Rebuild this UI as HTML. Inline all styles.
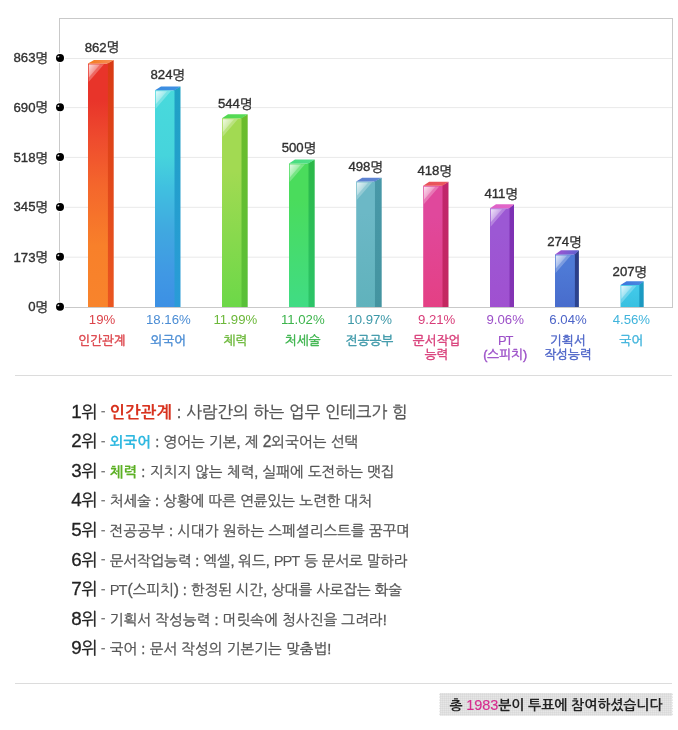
<!DOCTYPE html>
<html lang="ko"><head><meta charset="utf-8"><title>설문 결과</title>
<style>
html,body{margin:0;padding:0;background:#fff}
body{width:678px;height:730px;position:relative;overflow:hidden;font-family:"Liberation Sans", "NanumGothic", sans-serif;color:#555}
svg text{font-family:"Liberation Sans", "NanumGothic", sans-serif;stroke-width:0.25px}
.l{line-height:0}
.row b{-webkit-text-stroke:0.1px}
.hr{position:absolute;left:15px;width:657px;height:1px;background:#dcdcdc}
.row{position:absolute;left:71.3px;height:30px;line-height:30px;white-space:nowrap;color:#555;-webkit-text-stroke:0.3px}
.rk{display:inline-block;width:29.4px;font-size:17.43px;color:#222;letter-spacing:-0.5px}
.ds{display:inline-block;width:9px;color:#7c7c7c;position:relative;top:-1.4px;-webkit-text-stroke:0.1px;font-size:14.53px}
.foot{position:absolute;left:439px;top:693.2px;width:234px;height:22.7px}
.foot svg{position:absolute;left:0;top:0}
.foot p{position:absolute;left:0;top:1px;width:234px;margin:0;height:22.7px;line-height:22.7px;color:#222;font-size:14.0px;font-weight:bold;text-align:center;white-space:nowrap;letter-spacing:-0.1px}
.foot i{font-style:normal;color:#d62c8e;font-weight:normal;-webkit-text-stroke:0.15px}
</style></head><body>
<svg width="678" height="370" viewBox="0 0 678 370" style="position:absolute;left:0;top:0">
<defs>
<linearGradient id="f0" x1="0" y1="0" x2="0" y2="1"><stop offset="0.00" stop-color="#e8342a"/><stop offset="0.15" stop-color="#e8342a"/><stop offset="0.30" stop-color="#ee4a2e"/><stop offset="0.50" stop-color="#f4662c"/><stop offset="0.75" stop-color="#f8802a"/><stop offset="1.00" stop-color="#f8842c"/></linearGradient>
<linearGradient id="t0" x1="0" y1="0" x2="1" y2="0"><stop offset="0" stop-color="#f27a1c"/><stop offset="1" stop-color="#f8905c"/></linearGradient>
<linearGradient id="s0" x1="0" y1="0" x2="0" y2="1"><stop offset="0" stop-color="#d83a14"/><stop offset="1" stop-color="#ea5620"/></linearGradient>
<linearGradient id="f1" x1="0" y1="0" x2="0" y2="1"><stop offset="0.00" stop-color="#48dadc"/><stop offset="0.30" stop-color="#46d4dc"/><stop offset="0.45" stop-color="#40c0e0"/><stop offset="0.65" stop-color="#40a8e0"/><stop offset="0.85" stop-color="#4098e4"/><stop offset="1.00" stop-color="#3c90e4"/></linearGradient>
<linearGradient id="t1" x1="0" y1="0" x2="1" y2="0"><stop offset="0" stop-color="#3b8ce0"/><stop offset="1" stop-color="#3f92e4"/></linearGradient>
<linearGradient id="s1" x1="0" y1="0" x2="0" y2="1"><stop offset="0" stop-color="#1fa2c4"/><stop offset="1" stop-color="#2a9bd8"/></linearGradient>
<linearGradient id="f2" x1="0" y1="0" x2="0" y2="1"><stop offset="0.00" stop-color="#a2da52"/><stop offset="0.28" stop-color="#a2da52"/><stop offset="1.00" stop-color="#6cd848"/></linearGradient>
<linearGradient id="t2" x1="0" y1="0" x2="1" y2="0"><stop offset="0" stop-color="#50d850"/><stop offset="1" stop-color="#58dc58"/></linearGradient>
<linearGradient id="s2" x1="0" y1="0" x2="0" y2="1"><stop offset="0" stop-color="#6cbc2c"/><stop offset="1" stop-color="#58c038"/></linearGradient>
<linearGradient id="f3" x1="0" y1="0" x2="0" y2="1"><stop offset="0.00" stop-color="#4adc5c"/><stop offset="0.25" stop-color="#4adc5c"/><stop offset="1.00" stop-color="#40dc84"/></linearGradient>
<linearGradient id="t3" x1="0" y1="0" x2="1" y2="0"><stop offset="0" stop-color="#48dc80"/><stop offset="1" stop-color="#50e088"/></linearGradient>
<linearGradient id="s3" x1="0" y1="0" x2="0" y2="1"><stop offset="0" stop-color="#2cb848"/><stop offset="1" stop-color="#2cc468"/></linearGradient>
<linearGradient id="f4" x1="0" y1="0" x2="0" y2="1"><stop offset="0.00" stop-color="#6cb8c6"/><stop offset="0.25" stop-color="#6cb8c6"/><stop offset="1.00" stop-color="#60b2bc"/></linearGradient>
<linearGradient id="t4" x1="0" y1="0" x2="1" y2="0"><stop offset="0" stop-color="#5c80d0"/><stop offset="1" stop-color="#6088d4"/></linearGradient>
<linearGradient id="s4" x1="0" y1="0" x2="0" y2="1"><stop offset="0" stop-color="#4898a8"/><stop offset="1" stop-color="#4494a0"/></linearGradient>
<linearGradient id="f5" x1="0" y1="0" x2="0" y2="1"><stop offset="0.00" stop-color="#e0489c"/><stop offset="0.25" stop-color="#e0489c"/><stop offset="1.00" stop-color="#e44084"/></linearGradient>
<linearGradient id="t5" x1="0" y1="0" x2="1" y2="0"><stop offset="0" stop-color="#e85058"/><stop offset="1" stop-color="#ec5860"/></linearGradient>
<linearGradient id="s5" x1="0" y1="0" x2="0" y2="1"><stop offset="0" stop-color="#c0266c"/><stop offset="1" stop-color="#c42860"/></linearGradient>
<linearGradient id="f6" x1="0" y1="0" x2="0" y2="1"><stop offset="0.00" stop-color="#9c58d4"/><stop offset="0.25" stop-color="#9c58d4"/><stop offset="1.00" stop-color="#a050d0"/></linearGradient>
<linearGradient id="t6" x1="0" y1="0" x2="1" y2="0"><stop offset="0" stop-color="#de60c6"/><stop offset="1" stop-color="#e268ca"/></linearGradient>
<linearGradient id="s6" x1="0" y1="0" x2="0" y2="1"><stop offset="0" stop-color="#7c30b4"/><stop offset="1" stop-color="#8434b4"/></linearGradient>
<linearGradient id="f7" x1="0" y1="0" x2="0" y2="1"><stop offset="0.00" stop-color="#4e7ad6"/><stop offset="0.25" stop-color="#4e7ad6"/><stop offset="1.00" stop-color="#486ccc"/></linearGradient>
<linearGradient id="t7" x1="0" y1="0" x2="1" y2="0"><stop offset="0" stop-color="#a452d2"/><stop offset="1" stop-color="#5c62d0"/></linearGradient>
<linearGradient id="s7" x1="0" y1="0" x2="0" y2="1"><stop offset="0" stop-color="#2c3c84"/><stop offset="1" stop-color="#2c4490"/></linearGradient>
<linearGradient id="f8" x1="0" y1="0" x2="0" y2="1"><stop offset="0.00" stop-color="#40c8e8"/><stop offset="0.25" stop-color="#40c8e8"/><stop offset="1.00" stop-color="#38c0e0"/></linearGradient>
<linearGradient id="t8" x1="0" y1="0" x2="1" y2="0"><stop offset="0" stop-color="#3c74dc"/><stop offset="1" stop-color="#4a8ae0"/></linearGradient>
<linearGradient id="s8" x1="0" y1="0" x2="0" y2="1"><stop offset="0" stop-color="#1c9cc4"/><stop offset="1" stop-color="#1c98c0"/></linearGradient>
<linearGradient id="hl" x1="0" y1="0" x2="0.55" y2="0.45"><stop offset="0" stop-color="#fff" stop-opacity="0.8"/><stop offset="1" stop-color="#fff" stop-opacity="0.3"/></linearGradient>
</defs>
<rect x="59.5" y="18.5" width="613" height="289" fill="#fff" stroke="#c9c9c9" stroke-width="1"/>
<line x1="60" x2="672" y1="58.5" y2="58.5" stroke="#e9e9e9" stroke-width="1"/>
<line x1="60" x2="672" y1="107.6" y2="107.6" stroke="#e9e9e9" stroke-width="1"/>
<line x1="60" x2="672" y1="157.4" y2="157.4" stroke="#e9e9e9" stroke-width="1"/>
<line x1="60" x2="672" y1="207.3" y2="207.3" stroke="#e9e9e9" stroke-width="1"/>
<line x1="60" x2="672" y1="257.2" y2="257.2" stroke="#e9e9e9" stroke-width="1"/>
<circle cx="60" cy="57.9" r="5.2" fill="#fff"/><circle cx="60" cy="57.9" r="4" fill="#000"/><ellipse cx="58.4" cy="56.6" rx="1" ry="0.8" fill="#e8e8e8" transform="rotate(-35 58.4 56.6)"/>
<text x="48.1" y="62.1" text-anchor="end" font-size="13.4" fill="#303030" stroke="#303030" style="stroke-width:0.35px"><tspan font-size="13.20">863</tspan><tspan dy="0.7">명</tspan></text>
<circle cx="60" cy="107.3" r="5.2" fill="#fff"/><circle cx="60" cy="107.3" r="4" fill="#000"/><ellipse cx="58.4" cy="106.0" rx="1" ry="0.8" fill="#e8e8e8" transform="rotate(-35 58.4 106.0)"/>
<text x="48.1" y="111.5" text-anchor="end" font-size="13.4" fill="#303030" stroke="#303030" style="stroke-width:0.35px"><tspan font-size="13.20">690</tspan><tspan dy="0.7">명</tspan></text>
<circle cx="60" cy="157" r="5.2" fill="#fff"/><circle cx="60" cy="157" r="4" fill="#000"/><ellipse cx="58.4" cy="155.7" rx="1" ry="0.8" fill="#e8e8e8" transform="rotate(-35 58.4 155.7)"/>
<text x="48.1" y="162.0" text-anchor="end" font-size="13.4" fill="#303030" stroke="#303030" style="stroke-width:0.35px"><tspan font-size="13.20">518</tspan><tspan dy="0.7">명</tspan></text>
<circle cx="60" cy="207" r="5.2" fill="#fff"/><circle cx="60" cy="207" r="4" fill="#000"/><ellipse cx="58.4" cy="205.7" rx="1" ry="0.8" fill="#e8e8e8" transform="rotate(-35 58.4 205.7)"/>
<text x="48.1" y="211.2" text-anchor="end" font-size="13.4" fill="#303030" stroke="#303030" style="stroke-width:0.35px"><tspan font-size="13.20">345</tspan><tspan dy="0.7">명</tspan></text>
<circle cx="60" cy="256.7" r="5.2" fill="#fff"/><circle cx="60" cy="256.7" r="4" fill="#000"/><ellipse cx="58.4" cy="255.4" rx="1" ry="0.8" fill="#e8e8e8" transform="rotate(-35 58.4 255.4)"/>
<text x="48.1" y="261.5" text-anchor="end" font-size="13.4" fill="#303030" stroke="#303030" style="stroke-width:0.35px"><tspan font-size="13.20">173</tspan><tspan dy="0.7">명</tspan></text>
<circle cx="60" cy="306.7" r="5.2" fill="#fff"/><circle cx="60" cy="306.7" r="4" fill="#000"/><ellipse cx="58.4" cy="305.4" rx="1" ry="0.8" fill="#e8e8e8" transform="rotate(-35 58.4 305.4)"/>
<text x="48.1" y="311.1" text-anchor="end" font-size="13.4" fill="#303030" stroke="#303030" style="stroke-width:0.35px"><tspan font-size="13.20">0</tspan><tspan dy="0.7">명</tspan></text>
<polygon points="106.9,63.5 113.7,60.0 113.7,307.0 106.9,307.0" fill="url(#s0)"/>
<rect x="88.0" y="63.5" width="19.9" height="243.5" fill="url(#f0)"/>
<polygon points="88.0,63.5 94.0,60.0 113.7,60.0 107.9,63.5" fill="url(#t0)"/>
<polygon points="88.6,64.3 104.0,64.3 88.6,82.0" fill="#fff" fill-opacity="0.26"/>
<polygon points="88.8,64.5 100.0,64.5 88.8,77.5" fill="url(#hl)"/>
<text x="102.0" y="51.6" text-anchor="middle" font-size="13.4" fill="#303030" stroke="#303030" style="stroke-width:0.35px"><tspan font-size="13.20">862</tspan><tspan dy="0.7">명</tspan></text>
<text x="102.0" y="324.4" text-anchor="middle" font-size="13.4" fill="#dc434a"><tspan font-size="13.20">19%</tspan></text>
<text x="102.0" y="344.8" text-anchor="middle" font-size="12.7" fill="#dc434a" stroke="#dc434a" style="stroke-width:0.4px">인간관계</text>
<polygon points="173.5,90.3 180.5,86.6 180.5,307.0 173.5,307.0" fill="url(#s1)"/>
<rect x="155.0" y="90.3" width="19.5" height="216.7" fill="url(#f1)"/>
<polygon points="155.0,90.3 161.0,86.6 180.5,86.6 174.5,90.3" fill="url(#t1)"/>
<polygon points="155.6,91.1 171.0,91.1 155.6,108.8" fill="#fff" fill-opacity="0.26"/>
<polygon points="155.8,91.3 167.0,91.3 155.8,104.3" fill="url(#hl)"/>
<text x="167.8" y="79.4" text-anchor="middle" font-size="13.4" fill="#303030" stroke="#303030" style="stroke-width:0.35px"><tspan font-size="13.20">824</tspan><tspan dy="0.7">명</tspan></text>
<text x="168.4" y="324.4" text-anchor="middle" font-size="13.4" fill="#4a8cd4"><tspan font-size="13.20">18.16%</tspan></text>
<text x="168.4" y="344.8" text-anchor="middle" font-size="12.7" fill="#4a8cd4" stroke="#4a8cd4" style="stroke-width:0.4px">외국어</text>
<polygon points="240.5,118.3 247.7,114.2 247.7,307.0 240.5,307.0" fill="url(#s2)"/>
<rect x="222.0" y="118.3" width="19.5" height="188.7" fill="url(#f2)"/>
<polygon points="222.0,118.3 228.0,114.2 247.7,114.2 241.5,118.3" fill="url(#t2)"/>
<polygon points="222.6,119.1 238.0,119.1 222.6,136.8" fill="#fff" fill-opacity="0.26"/>
<polygon points="222.8,119.3 234.0,119.3 222.8,132.3" fill="url(#hl)"/>
<text x="235.2" y="108.4" text-anchor="middle" font-size="13.4" fill="#303030" stroke="#303030" style="stroke-width:0.35px"><tspan font-size="13.20">544</tspan><tspan dy="0.7">명</tspan></text>
<text x="235.4" y="324.4" text-anchor="middle" font-size="13.4" fill="#6cb83a"><tspan font-size="13.20">11.99%</tspan></text>
<text x="235.4" y="344.8" text-anchor="middle" font-size="12.7" fill="#6cb83a" stroke="#6cb83a" style="stroke-width:0.4px">체력</text>
<polygon points="307.5,163.5 314.7,159.6 314.7,307.0 307.5,307.0" fill="url(#s3)"/>
<rect x="289.0" y="163.5" width="19.5" height="143.5" fill="url(#f3)"/>
<polygon points="289.0,163.5 295.0,159.6 314.7,159.6 308.5,163.5" fill="url(#t3)"/>
<polygon points="289.6,164.3 305.0,164.3 289.6,182.0" fill="#fff" fill-opacity="0.26"/>
<polygon points="289.8,164.5 301.0,164.5 289.8,177.5" fill="url(#hl)"/>
<text x="299.0" y="152.4" text-anchor="middle" font-size="13.4" fill="#303030" stroke="#303030" style="stroke-width:0.35px"><tspan font-size="13.20">500</tspan><tspan dy="0.7">명</tspan></text>
<text x="302.8" y="324.4" text-anchor="middle" font-size="13.4" fill="#3cb44c"><tspan font-size="13.20">11.02%</tspan></text>
<text x="302.8" y="344.8" text-anchor="middle" font-size="12.7" fill="#3cb44c" stroke="#3cb44c" style="stroke-width:0.4px">처세술</text>
<polygon points="373.95,181.5 381.7,177.8 381.7,307.0 373.95,307.0" fill="url(#s4)"/>
<rect x="356.2" y="181.5" width="18.75" height="125.5" fill="url(#f4)"/>
<polygon points="356.2,181.5 362.2,177.8 381.7,177.8 374.95,181.5" fill="url(#t4)"/>
<polygon points="356.8,182.3 372.2,182.3 356.8,200.0" fill="#fff" fill-opacity="0.26"/>
<polygon points="357.0,182.5 368.2,182.5 357.0,195.5" fill="url(#hl)"/>
<text x="365.7" y="171.4" text-anchor="middle" font-size="13.4" fill="#303030" stroke="#303030" style="stroke-width:0.35px"><tspan font-size="13.20">498</tspan><tspan dy="0.7">명</tspan></text>
<text x="369.7" y="324.4" text-anchor="middle" font-size="13.4" fill="#3c98a8"><tspan font-size="13.20">10.97%</tspan></text>
<text x="369.7" y="344.8" text-anchor="middle" font-size="12.7" fill="#3c98a8" stroke="#3c98a8" style="stroke-width:0.4px">전공공부</text>
<polygon points="441.5,185.7 448.5,181.79999999999998 448.5,307.0 441.5,307.0" fill="url(#s5)"/>
<rect x="423.2" y="185.7" width="19.3" height="121.3" fill="url(#f5)"/>
<polygon points="423.2,185.7 429.2,181.79999999999998 448.5,181.79999999999998 442.5,185.7" fill="url(#t5)"/>
<polygon points="423.8,186.5 439.2,186.5 423.8,204.2" fill="#fff" fill-opacity="0.26"/>
<polygon points="424.0,186.7 435.2,186.7 424.0,199.7" fill="url(#hl)"/>
<text x="434.7" y="175.3" text-anchor="middle" font-size="13.4" fill="#303030" stroke="#303030" style="stroke-width:0.35px"><tspan font-size="13.20">418</tspan><tspan dy="0.7">명</tspan></text>
<text x="436.6" y="324.4" text-anchor="middle" font-size="13.4" fill="#d83c78"><tspan font-size="13.20">9.21%</tspan></text>
<text x="436.6" y="344.8" text-anchor="middle" font-size="12.7" fill="#d83c78" stroke="#d83c78" style="stroke-width:0.4px">문서작업</text>
<text x="436.6" y="359.2" text-anchor="middle" font-size="12.7" fill="#d83c78" stroke="#d83c78" style="stroke-width:0.4px">능력</text>
<polygon points="508.5,208.3 514.0,204.20000000000002 514.0,307.0 508.5,307.0" fill="url(#s6)"/>
<rect x="490.0" y="208.3" width="19.5" height="98.7" fill="url(#f6)"/>
<polygon points="490.0,208.3 496.0,204.20000000000002 514.0,204.20000000000002 509.5,208.3" fill="url(#t6)"/>
<polygon points="490.6,209.10000000000002 506.0,209.10000000000002 490.6,226.8" fill="#fff" fill-opacity="0.26"/>
<polygon points="490.8,209.3 502.0,209.3 490.8,222.3" fill="url(#hl)"/>
<text x="501.2" y="198.3" text-anchor="middle" font-size="13.4" fill="#303030" stroke="#303030" style="stroke-width:0.35px"><tspan font-size="13.20">411</tspan><tspan dy="0.7">명</tspan></text>
<text x="505.2" y="324.4" text-anchor="middle" font-size="13.4" fill="#9c50c8"><tspan font-size="13.20">9.06%</tspan></text>
<text x="505.2" y="344.8" text-anchor="middle" font-size="12.7" fill="#9c50c8" stroke="#9c50c8" style="stroke-width:0.4px"><tspan font-size="12.95" letter-spacing="-1" style="stroke-width:0.1px">PT</tspan></text>
<text x="505.2" y="359.2" text-anchor="middle" font-size="12.7" fill="#9c50c8" stroke="#9c50c8" style="stroke-width:0.4px"><tspan font-size="12.51">(</tspan>스피치<tspan font-size="12.51">)</tspan></text>
<polygon points="573.9,254.4 578.9,250.3 578.9,307.0 573.9,307.0" fill="url(#s7)"/>
<rect x="555.0" y="254.4" width="19.9" height="52.6" fill="url(#f7)"/>
<polygon points="555.0,254.4 561.0,250.3 578.9,250.3 574.9,254.4" fill="url(#t7)"/>
<polygon points="555.6,255.20000000000002 571.0,255.20000000000002 555.6,272.9" fill="#fff" fill-opacity="0.26"/>
<polygon points="555.8,255.4 567.0,255.4 555.8,268.4" fill="url(#hl)"/>
<text x="564.5" y="246.1" text-anchor="middle" font-size="13.4" fill="#303030" stroke="#303030" style="stroke-width:0.35px"><tspan font-size="13.20">274</tspan><tspan dy="0.7">명</tspan></text>
<text x="568.0" y="324.4" text-anchor="middle" font-size="13.4" fill="#4c64c8"><tspan font-size="13.20">6.04%</tspan></text>
<text x="568.0" y="344.8" text-anchor="middle" font-size="12.7" fill="#4c64c8" stroke="#4c64c8" style="stroke-width:0.4px">기획서</text>
<text x="568.0" y="359.2" text-anchor="middle" font-size="12.7" fill="#4c64c8" stroke="#4c64c8" style="stroke-width:0.4px">작성능력</text>
<polygon points="638.3,285.0 643.6999999999999,281.2 643.6999999999999,307.0 638.3,307.0" fill="url(#s8)"/>
<rect x="620.5" y="285.0" width="18.8" height="22.0" fill="url(#f8)"/>
<polygon points="620.5,285.0 626.5,281.2 643.6999999999999,281.2 639.3,285.0" fill="url(#t8)"/>
<polygon points="621.1,285.8 636.5,285.8 621.1,303.5" fill="#fff" fill-opacity="0.26"/>
<polygon points="621.3,286.0 632.5,286.0 621.3,299.0" fill="url(#hl)"/>
<text x="629.9" y="276.1" text-anchor="middle" font-size="13.4" fill="#303030" stroke="#303030" style="stroke-width:0.35px"><tspan font-size="13.20">207</tspan><tspan dy="0.7">명</tspan></text>
<text x="631.4" y="324.4" text-anchor="middle" font-size="13.4" fill="#40b4dc"><tspan font-size="13.20">4.56%</tspan></text>
<text x="631.4" y="344.8" text-anchor="middle" font-size="12.7" fill="#40b4dc" stroke="#40b4dc" style="stroke-width:0.4px">국어</text>
</svg>
<div class="hr" style="top:375px"></div>
<div class="row" style="top:396.80px"><span class="rk"><span class="l" style="font-size:18.74px">1</span>위</span><span class="ds">-</span><span class="tx" style="font-size:16.47px;letter-spacing:0.122px"><b style="color:#d8321e">인간관계</b> : 사람간의 하는 업무 인테크가 힘</span></div>
<div class="row" style="top:426.36px"><span class="rk"><span class="l" style="font-size:18.74px">2</span>위</span><span class="ds">-</span><span class="tx" style="font-size:14.53px;letter-spacing:0.122px"><b style="color:#2fb8e0">외국어</b> : 영어는 기본, 제 <span class="l" style="font-size:15.62px">2</span>외국어는 선택</span></div>
<div class="row" style="top:455.92px"><span class="rk"><span class="l" style="font-size:18.74px">3</span>위</span><span class="ds">-</span><span class="tx" style="font-size:14.53px;letter-spacing:0.115px"><b style="color:#5cb024">체력</b> : 지치지 않는 체력, 실패에 도전하는 맷집</span></div>
<div class="row" style="top:485.48px"><span class="rk"><span class="l" style="font-size:18.74px">4</span>위</span><span class="ds">-</span><span class="tx" style="font-size:14.53px;letter-spacing:0.087px">처세술 : 상황에 따른 연륜있는 노련한 대처</span></div>
<div class="row" style="top:515.04px"><span class="rk"><span class="l" style="font-size:18.74px">5</span>위</span><span class="ds">-</span><span class="tx" style="font-size:14.53px;letter-spacing:0.136px">전공공부 : 시대가 원하는 스페셜리스트를 꿈꾸며</span></div>
<div class="row" style="top:544.60px"><span class="rk"><span class="l" style="font-size:18.74px">6</span>위</span><span class="ds">-</span><span class="tx" style="font-size:14.53px;letter-spacing:-0.041px">문서작업능력 : 엑셀, 워드, <span class="l" style="font-size:14.82px;letter-spacing:-1.1px;margin-right:1.1px;-webkit-text-stroke:0">PPT</span> 등 문서로 말하라</span></div>
<div class="row" style="top:574.16px"><span class="rk"><span class="l" style="font-size:18.74px">7</span>위</span><span class="ds">-</span><span class="tx" style="font-size:14.53px;letter-spacing:-0.007px"><span class="l" style="font-size:14.82px;letter-spacing:-1.1px;margin-right:1.1px;-webkit-text-stroke:0">PT</span><span class="l" style="font-size:15.62px">(</span>스피치<span class="l" style="font-size:15.62px">)</span> : 한정된 시간, 상대를 사로잡는 화술</span></div>
<div class="row" style="top:603.72px"><span class="rk"><span class="l" style="font-size:18.74px">8</span>위</span><span class="ds">-</span><span class="tx" style="font-size:14.53px;letter-spacing:0.133px">기획서 작성능력 : 머릿속에 청사진을 그려라!</span></div>
<div class="row" style="top:633.28px"><span class="rk"><span class="l" style="font-size:18.74px">9</span>위</span><span class="ds">-</span><span class="tx" style="font-size:14.53px;letter-spacing:0.120px">국어 : 문서 작성의 기본기는 맞춤법!</span></div>
<div class="hr" style="top:683px"></div>
<div class="foot"><svg width="234" height="23" viewBox="0 0 234 23"><defs><pattern id="dz" width="2" height="2" patternUnits="userSpaceOnUse"><rect width="2" height="2" fill="#dfdfdf"/><rect width="1" height="1" fill="#e6e6e6"/><rect x="1" y="1" width="1" height="1" fill="#d9d9d9"/></pattern></defs><polygon points="1.2,0.00 0.0,1.42 1.2,2.84 0.0,4.26 1.2,5.67 0.0,7.09 1.2,8.51 0.0,9.93 1.2,11.35 0.0,12.77 1.2,14.19 0.0,15.61 1.2,17.02 0.0,18.44 1.2,19.86 0.0,21.28 1.2,22.70 232.8,22.70 234.0,21.28 232.8,19.86 234.0,18.44 232.8,17.02 234.0,15.61 232.8,14.19 234.0,12.77 232.8,11.35 234.0,9.93 232.8,8.51 234.0,7.09 232.8,5.68 234.0,4.26 232.8,2.84 234.0,1.42 232.8,0.00" fill="url(#dz)"/></svg><p>총 <i><span class="l" style="font-size:14.49px">1983</span></i>분이 투표에 참여하셨습니다</p></div>
</body></html>
